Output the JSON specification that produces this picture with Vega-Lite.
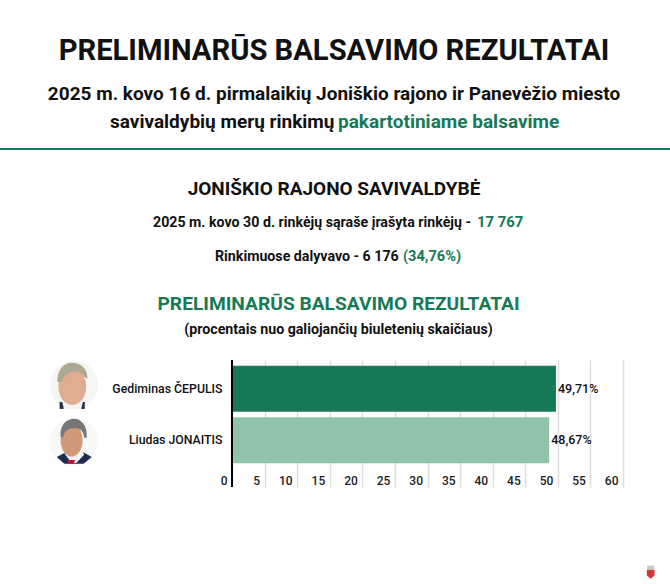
{
  "$schema": "https://vega.github.io/schema/vega-lite/v6.json",
  "width": 391,
  "height": 127,
  "autosize": "none",
  "padding": {"left": 232, "top": 360, "right": 47, "bottom": 97},
  "background": "white",
  "config": {
    "view": {"stroke": null},
    "font": "Roboto",
    "text": {"font": "Roboto", "color": "#111111", "fontWeight": 700},
    "axisX": {
      "domain": false,
      "ticks": false,
      "grid": true,
      "gridColor": "#dddddd",
      "gridWidth": 1.5,
      "labelAlign": "right",
      "labelBaseline": "middle",
      "labelPadding": -7,
      "labelOffset": -5,
      "labelFontSize": 12,
      "labelFontWeight": 500,
      "labelColor": "#222222",
      "labelFont": "Roboto",
      "labelFlush": false,
      "labelOverlap": false,
      "title": null
    },
    "axisY": {
      "domain": false,
      "ticks": false,
      "grid": false,
      "labelPadding": 10,
      "labelFontSize": 12.3,
      "labelFontWeight": 500,
      "labelColor": "#111111",
      "labelFont": "Roboto",
      "labelLimit": 200,
      "title": null
    }
  },
  "title": {
    "text": "PRELIMINARŪS BALSAVIMO REZULTATAI",
    "font": "Roboto",
    "fontSize": 29.2,
    "fontWeight": 700,
    "color": "#111111",
    "anchor": "middle",
    "dx": -93.5,
    "offset": 19
  },
  "datasets": {
    "results": [
      {"candidate": "Gediminas ČEPULIS", "percent": 49.71, "label": "49,71%"},
      {"candidate": "Liudas JONAITIS", "percent": 48.67, "label": "48,67%"}
    ],
    "portraits": [
      {"candidate": "Gediminas ČEPULIS", "part": "bg1"},
      {"candidate": "Gediminas ČEPULIS", "part": "suit1"},
      {"candidate": "Gediminas ČEPULIS", "part": "shirt1"},
      {"candidate": "Gediminas ČEPULIS", "part": "face1"},
      {"candidate": "Gediminas ČEPULIS", "part": "hair1"},
      {"candidate": "Liudas JONAITIS", "part": "bg2"},
      {"candidate": "Liudas JONAITIS", "part": "suit2"},
      {"candidate": "Liudas JONAITIS", "part": "shirt2"},
      {"candidate": "Liudas JONAITIS", "part": "tie2"},
      {"candidate": "Liudas JONAITIS", "part": "face2"},
      {"candidate": "Liudas JONAITIS", "part": "hair2"}
    ]
  },
  "layer": [
    {
      "data": {"name": "results"},
      "mark": {"type": "bar"},
      "encoding": {
        "x": {
          "field": "percent",
          "type": "quantitative",
          "scale": {"domain": [0, 60], "nice": false},
          "axis": {"values": [0, 5, 10, 15, 20, 25, 30, 35, 40, 45, 50, 55, 60]}
        },
        "y": {
          "field": "candidate",
          "type": "nominal",
          "sort": null,
          "scale": {"paddingInner": 0.107, "paddingOuter": 0.2865, "align": 0.195}
        },
        "color": {
          "field": "candidate",
          "type": "nominal",
          "legend": null,
          "scale": {"domain": ["Gediminas ČEPULIS", "Liudas JONAITIS"], "range": ["#177a56", "#8fc4a8"]}
        }
      }
    },
    {
      "data": {"name": "portraits"},
      "mark": {"type": "point", "filled": true, "opacity": 1, "size": 2304},
      "encoding": {
        "x": {"value": -158},
        "y": {"field": "candidate", "type": "nominal", "sort": null},
        "shape": {
          "field": "part",
          "type": "nominal",
          "legend": null,
          "scale": {
            "domain": ["bg1", "suit1", "shirt1", "face1", "hair1", "bg2", "suit2", "shirt2", "tie2", "face2", "hair2"],
            "range": [
              "M-1,-.146A1,1 0 1,1 1,-.146A1,1 0 1,1 -1,-.146Z",
              "M-.6,.55L.45,.55L.45,.84L-.6,.84Z",
              "M-.5,.5L.38,.5L.3,.84L-.42,.84Z",
              "M-.65,-.08A.58,.76 0 1,1 .51,-.08A.58,.76 0 1,1 -.65,-.08Z",
              "M-.69,-.28C-.72,-.8 -.4,-1.08 -.1,-1.08C.25,-1.08 .58,-.85 .56,-.42L.42,-.5C.25,-.8 -.3,-.8 -.51,-.28Z",
              "M-1,.07A1,1 0 1,1 1,.07A1,1 0 1,1 -1,.07Z",
              "M-.72,.7L-.25,.45L.3,.45L.74,.7L.4,.98L-.4,.98Z",
              "M-.4,.55L-.2,.42L.35,.42L.42,.6L.1,.95L-.1,.95Z",
              "M-.28,.82L.05,.82L-.02,.98L-.2,.98Z",
              "M-.56,0A.46,.68 0 1,1 .36,0A.46,.68 0 1,1 -.56,0Z",
              "M-.56,-.15C-.6,-.65 -.3,-.9 0,-.9C.3,-.9 .58,-.6 .53,-.1L.42,-.1C.4,-.4 .25,-.5 .05,-.5C-.2,-.5 -.4,-.45 -.46,-.1Z"
            ]
          }
        },
        "color": {
          "field": "part",
          "type": "nominal",
          "legend": null,
          "scale": {
            "domain": ["bg1", "suit1", "shirt1", "face1", "hair1", "bg2", "suit2", "shirt2", "tie2", "face2", "hair2"],
            "range": ["#f5f5f3", "#27304a", "#f4f4f6", "#dfae90", "#ada892", "#f8f8f7", "#1f2d4d", "#f2f2f2", "#c8102e", "#d09a78", "#77777a"]
          }
        }
      }
    },
    {
      "data": {"name": "results"},
      "mark": {"type": "text", "align": "left", "baseline": "middle", "dx": 2, "fontSize": 12.5, "fontWeight": 500},
      "encoding": {
        "x": {"field": "percent", "type": "quantitative", "axis": {"values": [0, 5, 10, 15, 20, 25, 30, 35, 40, 45, 50, 55, 60]}},
        "y": {"field": "candidate", "type": "nominal", "sort": null},
        "text": {"field": "label"}
      }
    },
    {
      "data": {"values": [{"zero": 0}]},
      "mark": {"type": "rule", "color": "#000000", "strokeWidth": 2},
      "encoding": {"x": {"field": "zero", "type": "quantitative", "axis": {"values": [0, 5, 10, 15, 20, 25, 30, 35, 40, 45, 50, 55, 60]}}}
    },
    {
      "data": {"values": [{"name": "divider"}]},
      "mark": {"type": "rule", "color": "#177a56", "strokeWidth": 2},
      "encoding": {"x": {"value": -232}, "x2": {"value": 438}, "y": {"value": -211}}
    },
    {
      "data": {"values": [{"t": "2025 m. kovo 16 d. pirmalaikių Joniškio rajono ir Panevėžio miesto"}]},
      "mark": {"type": "text", "x": 102, "y": -266, "align": "center", "baseline": "middle", "fontSize": 19},
      "encoding": {"text": {"field": "t"}}
    },
    {
      "data": {"values": [{"t": "savivaldybių merų rinkimų"}]},
      "mark": {"type": "text", "x": -122, "y": -238.5, "align": "left", "baseline": "middle", "fontSize": 19},
      "encoding": {"text": {"field": "t"}}
    },
    {
      "data": {"values": [{"t": "pakartotiniame balsavime"}]},
      "mark": {"type": "text", "x": 106, "y": -238.5, "align": "left", "baseline": "middle", "fontSize": 19, "color": "#177a56"},
      "encoding": {"text": {"field": "t"}}
    },
    {
      "data": {"values": [{"t": "JONIŠKIO RAJONO SAVIVALDYBĖ"}]},
      "mark": {"type": "text", "x": 102, "y": -171, "align": "center", "baseline": "middle", "fontSize": 19},
      "encoding": {"text": {"field": "t"}}
    },
    {
      "data": {"values": [{"t": "2025 m. kovo 30 d. rinkėjų sąraše įrašyta rinkėjų -"}]},
      "mark": {"type": "text", "x": -79, "y": -137.5, "align": "left", "baseline": "middle", "fontSize": 14.2},
      "encoding": {"text": {"field": "t"}}
    },
    {
      "data": {"values": [{"t": "17 767"}]},
      "mark": {"type": "text", "x": 245, "y": -137.5, "align": "left", "baseline": "middle", "fontSize": 14.8, "color": "#177a56"},
      "encoding": {"text": {"field": "t"}}
    },
    {
      "data": {"values": [{"t": "Rinkimuose dalyvavo - 6 176"}]},
      "mark": {"type": "text", "x": -17, "y": -103.5, "align": "left", "baseline": "middle", "fontSize": 14.2},
      "encoding": {"text": {"field": "t"}}
    },
    {
      "data": {"values": [{"t": "(34,76%)"}]},
      "mark": {"type": "text", "x": 171, "y": -103.5, "align": "left", "baseline": "middle", "fontSize": 14.6, "color": "#177a56"},
      "encoding": {"text": {"field": "t"}}
    },
    {
      "data": {"values": [{"t": "PRELIMINARŪS BALSAVIMO REZULTATAI"}]},
      "mark": {"type": "text", "x": 106.5, "y": -56, "align": "center", "baseline": "middle", "fontSize": 19.2, "color": "#177a56"},
      "encoding": {"text": {"field": "t"}}
    },
    {
      "data": {"values": [{"t": "(procentais nuo galiojančių biuletenių skaičiaus)"}]},
      "mark": {"type": "text", "x": 106.5, "y": -30.5, "align": "center", "baseline": "middle", "fontSize": 14.2},
      "encoding": {"text": {"field": "t"}}
    },
    {
      "data": {"values": [{"part": "crest top"}, {"part": "crest shield"}]},
      "mark": {"type": "point", "filled": true, "opacity": 1, "size": 196, "x": 418.7, "y": 212},
      "encoding": {
        "shape": {
          "field": "part",
          "type": "nominal",
          "legend": null,
          "scale": {
            "domain": ["crest top", "crest shield"],
            "range": ["M-.5,-.9L.5,-.9L.5,-.2L-.5,-.2Z", "M-.55,-.3L.55,-.3L.55,.5L0,.95L-.55,.5Z"]
          }
        },
        "color": {
          "field": "part",
          "type": "nominal",
          "legend": null,
          "scale": {"domain": ["crest top", "crest shield"], "range": ["#c9c9c9", "#d8343f"]}
        }
      }
    }
  ],
  "resolve": {"scale": {"color": "independent", "shape": "independent"}}
}
